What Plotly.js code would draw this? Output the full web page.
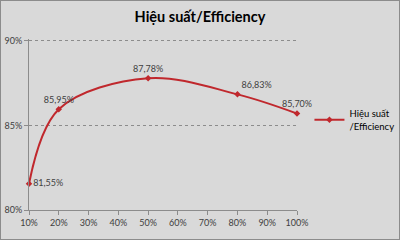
<!DOCTYPE html>
<html><head><meta charset="utf-8">
<script src="https://cdn.plot.ly/plotly-3.0.1.min.js"></script>
<style>html,body{margin:0;padding:0;background:#d9d9d9;}#c{width:400px;height:240px;box-sizing:border-box;border:1px solid #8c8c8c;}</style>
</head><body><div id="c"></div>
<script>
const loads = [0.10, 0.20, 0.50, 0.80, 1.00];
const efficiency = [0.8155, 0.8595, 0.8778, 0.8683, 0.8570];
const seriesName = 'Hiệu suất<br>/Efficiency';
const titleText = 'Hiệu suất/Efficiency';
const xTicks = [0.1,0.2,0.3,0.4,0.5,0.6,0.7,0.8,0.9,1.0];
const yTicks = [0.80,0.85,0.90];
const labelPos = ['middle right','top center','top center','top right','top center'];

const red = '#c0282d';
Plotly.newPlot('c', [{
  x: loads, y: efficiency, name: seriesName,
  type: 'scatter', mode: 'lines+markers+text',
  line: {color: red, width: 2, shape: 'spline', smoothing: 1},
  marker: {symbol: 'diamond', size: 5, color: red},
  texttemplate: '%{y:.2%}', textposition: labelPos,
  textfont: {family: 'Lato, sans-serif', size: 9, color: '#404040'},
  cliponaxis: false
}], {
  width: 398, height: 238,
  paper_bgcolor: '#d9d9d9', plot_bgcolor: '#d9d9d9',
  separators: ',.',
  margin: {l: 28, r: 102, t: 38, b: 29, pad: 0},
  title: {text: '<b>' + titleText + '</b>', font: {family: 'Lato, sans-serif', size: 14.5, color: '#000'},
          x: 0.5, xanchor: 'center', xref: 'container', y: 0.935, yanchor: 'middle', yref: 'container'},
  font: {family: 'Lato, sans-serif', size: 9, color: '#404040'},
  xaxis: {range: [0.1, 1.0], tickvals: xTicks, tickformat: '.0%', showgrid: false, zeroline: false,
          showline: true, linecolor: '#8c8c8c', linewidth: 1, ticks: 'outside', ticklen: 4, tickcolor: '#8c8c8c'},
  yaxis: {range: [0.80, 0.901], tickvals: yTicks, tickformat: '.0%', showgrid: true, gridcolor: '#8c8c8c',
          griddash: 'dot', gridwidth: 1, zeroline: false, showline: true, linecolor: '#8c8c8c', linewidth: 1,
          ticks: 'outside', ticklen: 4, tickcolor: '#8c8c8c'},
  showlegend: true,
  legend: {x: 0.775, xref: 'container', xanchor: 'left', y: 0.50, yref: 'container', yanchor: 'middle',
           itemwidth: 30, bgcolor: 'rgba(0,0,0,0)', font: {family: 'Lato, sans-serif', size: 9.5, color: '#000'}}
}, {displayModeBar: false});
</script></body></html>
